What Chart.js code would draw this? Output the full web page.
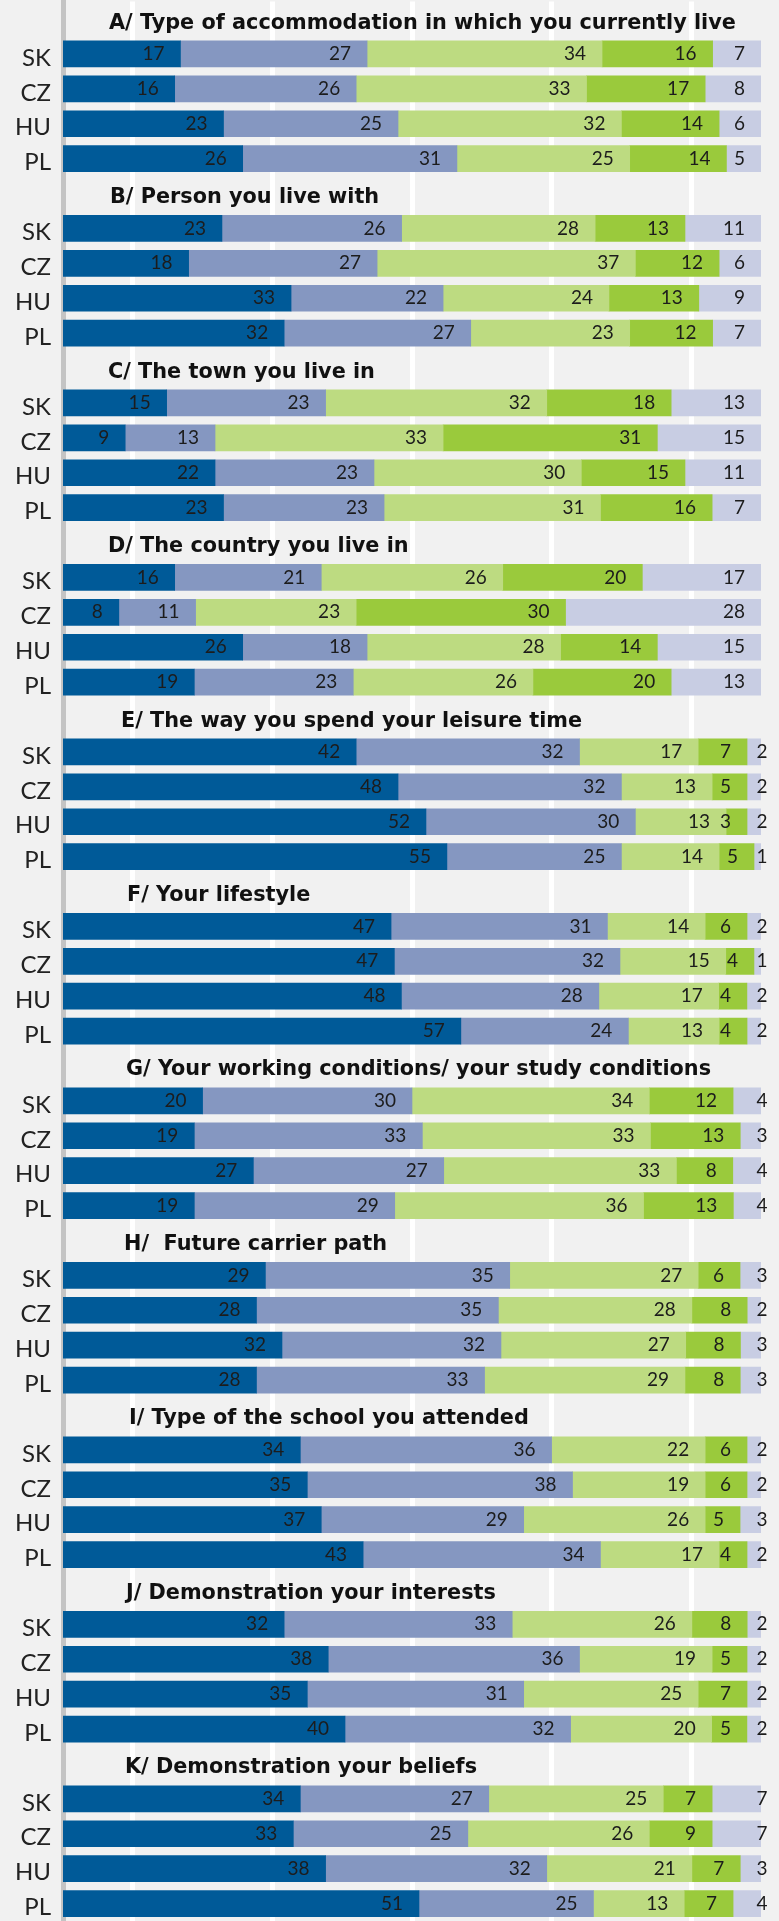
<!DOCTYPE html>
<html>
<head>
<meta charset="utf-8">
<script src="https://cdn.jsdelivr.net/npm/chart.js@4.4.1/dist/chart.umd.min.js"></script>
<style>
html,body{margin:0;padding:0;background:#f1f1f1;overflow:hidden}
#wrap{position:relative;width:779px;height:1921px}
canvas{display:block}
</style>
</head>
<body>
<div id="wrap"><canvas id="c" width="779" height="1921"></canvas></div>
<script>
// ---- categories ----
const countries = ['SK', 'CZ', 'HU', 'PL'];
const questions = [
  'A/ Type of accommodation in which you currently live',
  'B/ Person you live with',
  'C/ The town you live in',
  'D/ The country you live in',
  'E/ The way you spend your leisure time',
  'F/ Your lifestyle',
  'G/ Your working conditions/ your study conditions',
  'H/  Future carrier path',
  'I/ Type of the school you attended',
  'J/ Demonstration your interests',
  'K/ Demonstration your beliefs'
];
// ---- series values (per question: SK, CZ, HU, PL) ----
const series1 = [17,16,23,26, 23,18,33,32, 15,9,22,23, 16,8,26,19, 42,48,52,55, 47,47,48,57, 20,19,27,19, 29,28,32,28, 34,35,37,43, 32,38,35,40, 34,33,38,51];
const series2 = [27,26,25,31, 26,27,22,27, 23,13,23,23, 21,11,18,23, 32,32,30,25, 31,32,28,24, 30,33,27,29, 35,35,32,33, 36,38,29,34, 33,36,31,32, 27,25,32,25];
const series3 = [34,33,32,25, 28,37,24,23, 32,33,30,31, 26,23,28,26, 17,13,13,14, 14,15,17,13, 34,33,33,36, 27,28,27,29, 22,19,26,17, 26,19,25,20, 25,26,21,13];
const series4 = [16,17,14,14, 13,12,13,12, 18,31,15,16, 20,30,14,20, 7,5,3,5, 6,4,4,4, 12,13,8,13, 6,8,8,8, 6,6,5,4, 8,5,7,5, 7,9,7,7];
const series5 = [7,8,6,5, 11,6,9,7, 13,15,11,7, 17,28,15,13, 2,2,2,1, 2,1,2,2, 4,3,4,4, 3,2,3,3, 2,2,3,2, 2,2,2,2, 7,7,3,4];
// ---- gridline tick values ----
const gridTicks = [10, 30, 50, 70, 90];

// ---- styles ----
const colors = ['#005a98', '#8597c1', '#bddb81', '#9aca3c', '#c8cde3'];
const titleX = [109, 110, 108, 108, 121, 127, 126, 124, 129, 126, 125];
const lastLabelAtEdge = [false, false, false, false, true, true, true, true, true, true, true];

const allSeries = [series1, series2, series3, series4, series5];
const labels = [];
questions.forEach(() => { labels.push(''); countries.forEach(c => labels.push(c)); });

const nQ = questions.length, nC = countries.length;
const rowSum = [];
for (let r = 0; r < nQ * nC; r++) rowSum.push(allSeries.reduce((a, s) => a + s[r], 0));

const datasets = allSeries.map((s, k) => {
  const data = [], raw = [];
  for (let q = 0; q < nQ; q++) {
    data.push(null); raw.push(null);
    for (let c = 0; c < nC; c++) {
      const r = q * nC + c;
      data.push(s[r] / rowSum[r] * 100);
      raw.push(s[r]);
    }
  }
  return { label: 'S' + (k + 1), data, raw, backgroundColor: colors[k], borderWidth: 0, barThickness: 26 };
});

const valueLabels = {
  id: 'valueLabels',
  afterDatasetsDraw(chart) {
    const ctx = chart.ctx;
    ctx.save();
    ctx.font = '19px Lato';
    ctx.fillStyle = '#1c1c1c';
    ctx.textBaseline = 'middle';
    const last = chart.data.datasets.length - 1;
    chart.data.datasets.forEach((ds, di) => {
      const meta = chart.getDatasetMeta(di);
      meta.data.forEach((bar, i) => {
        const v = ds.raw[i];
        if (v == null) return;
        const p = bar.getProps(['x', 'base', 'y'], true);
        const right = Math.max(p.x, p.base);
        const q = Math.floor(i / 5);
        const t = String(v);
        if (di === last && lastLabelAtEdge[q]) {
          ctx.textAlign = 'center';
          ctx.fillText(t, right + 1, p.y);
        } else {
          ctx.textAlign = 'right';
          ctx.fillText(t, right - 16, p.y);
        }
      });
    });
    ctx.restore();
  }
};

const panelTitles = {
  id: 'panelTitles',
  afterDatasetsDraw(chart) {
    const ctx = chart.ctx;
    const ys = chart.scales.y;
    ctx.save();
    ctx.font = 'bold 20.8px "DejaVu Sans"';
    ctx.fillStyle = '#111111';
    ctx.textAlign = 'left';
    ctx.textBaseline = 'alphabetic';
    questions.forEach((t, q) => {
      const y = ys.getPixelForValue(q * 5);
      ctx.fillText(t, titleX[q], y + 9.5);
    });
    ctx.restore();
  }
};

new Chart(document.getElementById('c'), {
  type: 'bar',
  data: { labels, datasets },
  plugins: [valueLabels, panelTitles],
  options: {
    indexAxis: 'y',
    responsive: false,
    animation: false,
    layout: { padding: { top: 1.6, right: 18, left: 0, bottom: 0 } },
    plugins: { legend: { display: false }, tooltip: { enabled: false }, title: { display: false } },
    scales: {
      x: {
        stacked: true, min: 0, max: 100,
        grid: { color: '#ffffff', lineWidth: 5, drawTicks: false },
        border: { display: false },
        ticks: { display: false },
        afterBuildTicks: s => { s.ticks = gridTicks.map(v => ({ value: v })); },
        afterFit: s => { s.height = 0; s.paddingLeft = 0; s.paddingRight = 0; }
      },
      y: {
        stacked: true,
        grid: { display: false, drawTicks: false },
        border: { display: true, color: '#c4c4c4', width: 5 },
        ticks: { font: { family: 'Lato', size: 24 }, color: '#222222', padding: 12, labelOffset: 4, autoSkip: false },
        afterFit: s => { s.width = 63; s.paddingTop = 0; s.paddingBottom = 0; }
      }
    }
  }
});
</script>
</body>
</html>
